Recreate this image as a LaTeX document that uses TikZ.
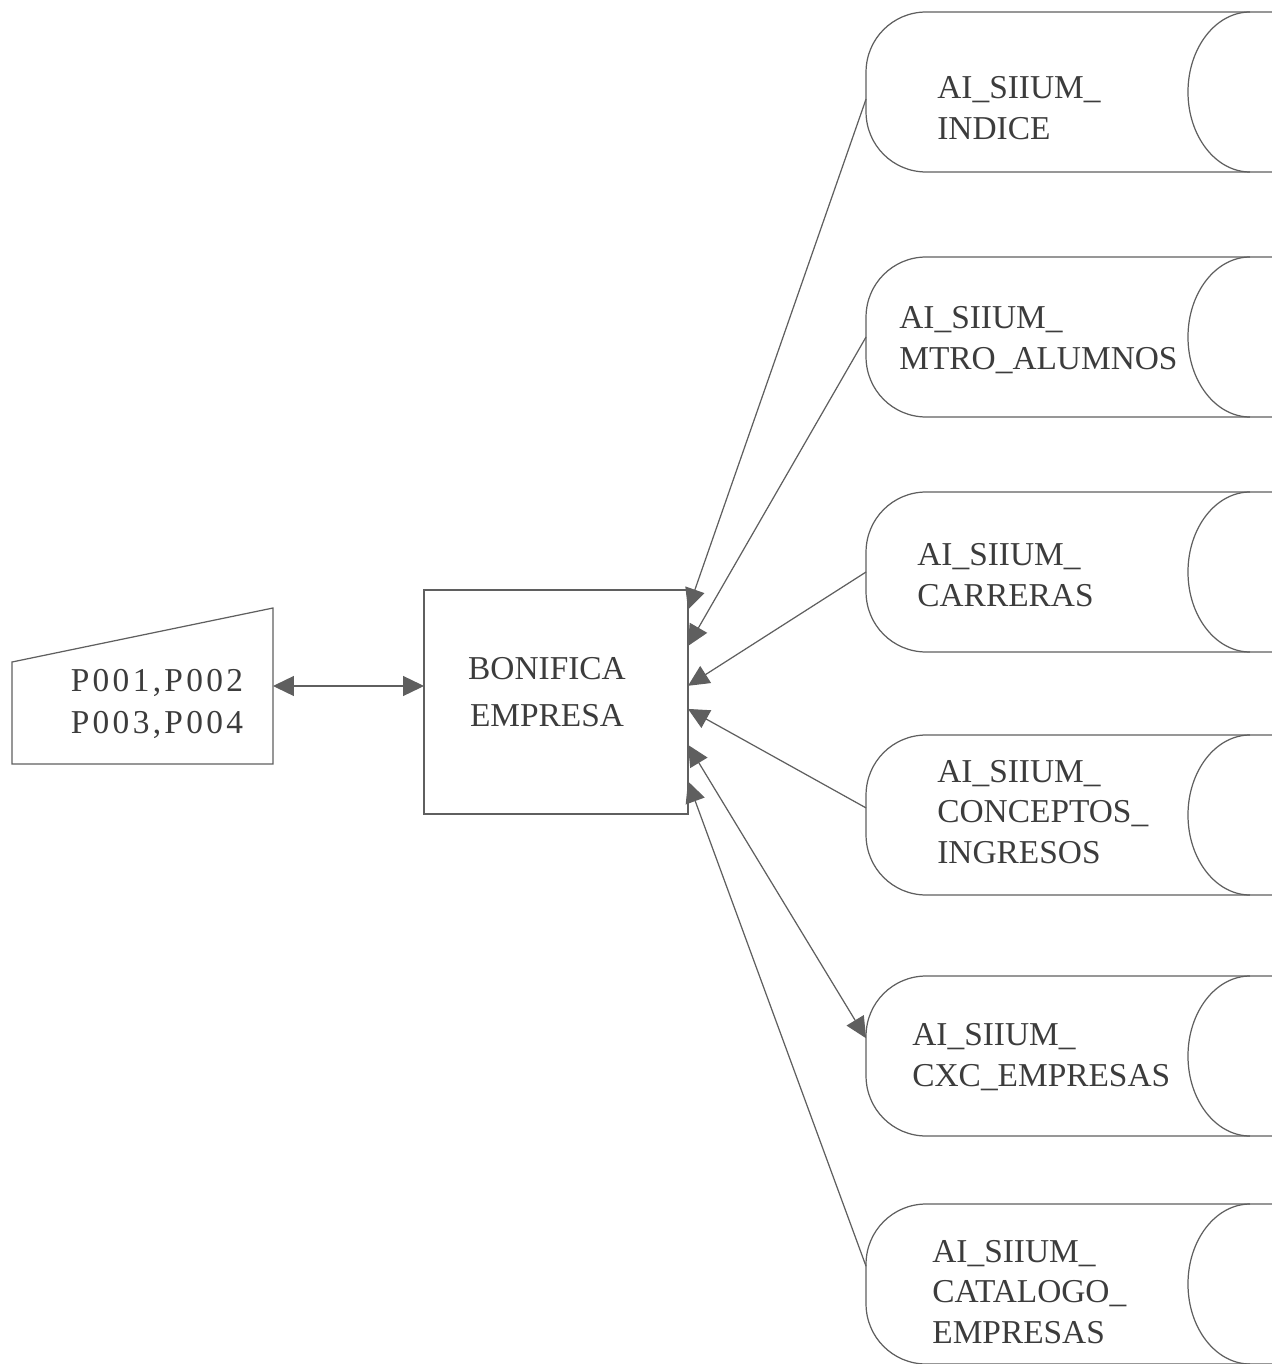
\documentclass[tikz,border=0pt]{standalone}
\usepackage{fontspec}
\setmainfont{Liberation Serif}
\usetikzlibrary{arrows.meta}
\definecolor{linegray}{RGB}{95,95,95}
\definecolor{textgray}{RGB}{60,60,60}
\tikzset{
  store/.style={minimum width=8.12cm, minimum height=3.2cm, inner sep=0pt, outer sep=0pt},
  storetext/.style={anchor=west, align=left, inner sep=0pt},
  outline/.style={draw=linegray, line width=0.7pt}
}
\begin{document}
\begin{tikzpicture}[x=0.02cm, y=-0.02cm, font=\fontsize{19}{23}\selectfont, text=textgray,
    >={Triangle[length=0.42cm, width=0.4cm]}]
  \useasboundingbox (0,0) rectangle (1278,1364);
  \node[inner sep=0pt, outer sep=0pt, minimum width=5.22cm, minimum height=3.12cm] (inp) at (142.5,686) {};
  \draw[outline] (inp.south west) -- (inp.south east) -- (inp.north east)
    -- ([yshift=-1.08cm]inp.north west) -- cycle;
  \node[align=center, inner sep=0pt, font=\fontsize{19}{24}\selectfont\addfontfeature{LetterSpace=10}] (inptxt) at (157,704) {P001,P002\\P003,P004};
  \node[outline, outer sep=0pt, minimum width=5.28cm, minimum height=4.48cm] (bon) at (556,702) {};
  \node[align=center, inner sep=0pt, font=\fontsize{19}{27}\selectfont] (bontxt) at (547,692) {BONIFICA\\EMPRESA};
  \node[store] (st1) at (1069,92) {};
  \node[store] (st2) at (1069,337) {};
  \node[store] (st3) at (1069,572) {};
  \node[store] (st4) at (1069,815) {};
  \node[store] (st5) at (1069,1056) {};
  \node[store] (st6) at (1069,1284) {};
  \foreach \s in {st1,st2,st3,st4,st5,st6} {
    \draw[outline, rounded corners=1.2cm] (\s.north east) -- (\s.north west) -- (\s.south west) -- (\s.south east);
    \draw[outline] ([xshift=-0.44cm]\s.north east) arc[start angle=90, end angle=270, x radius=1.24cm, y radius=1.6cm];
  }
  \node[storetext] (t1) at (937,108) {AI\_SIIUM\_\\INDICE};
  \node[storetext] (t2) at (899,340) {AI\_SIIUM\_\\MTRO\_ALUMNOS};
  \node[storetext] (t3) at (917,575) {AI\_SIIUM\_\\CARRERAS};
  \node[storetext] (t4) at (937,812) {AI\_SIIUM\_\\CONCEPTOS\_\\INGRESOS};
  \node[storetext] (t5) at (912,1057) {AI\_SIIUM\_\\CXC\_EMPRESAS};
  \node[storetext] (t6) at (932,1292) {AI\_SIIUM\_\\CATALOGO\_\\EMPRESAS};
  \begin{scope}[outline, ->]
    \draw[<->] (inp.east) -- (inp.east -| bon.west);
    \draw (st1.182) -- (bon.35);
    \draw (st2.west) -- (bon.23);
    \draw (st3.west) -- (bon.7);
    \draw (st4.178) -- (bon.-3);
    \draw[<->] (st5.175) -- (bon.-18);
    \draw (st6.175) -- (bon.-31);
  \end{scope}
\end{tikzpicture}
\end{document}
